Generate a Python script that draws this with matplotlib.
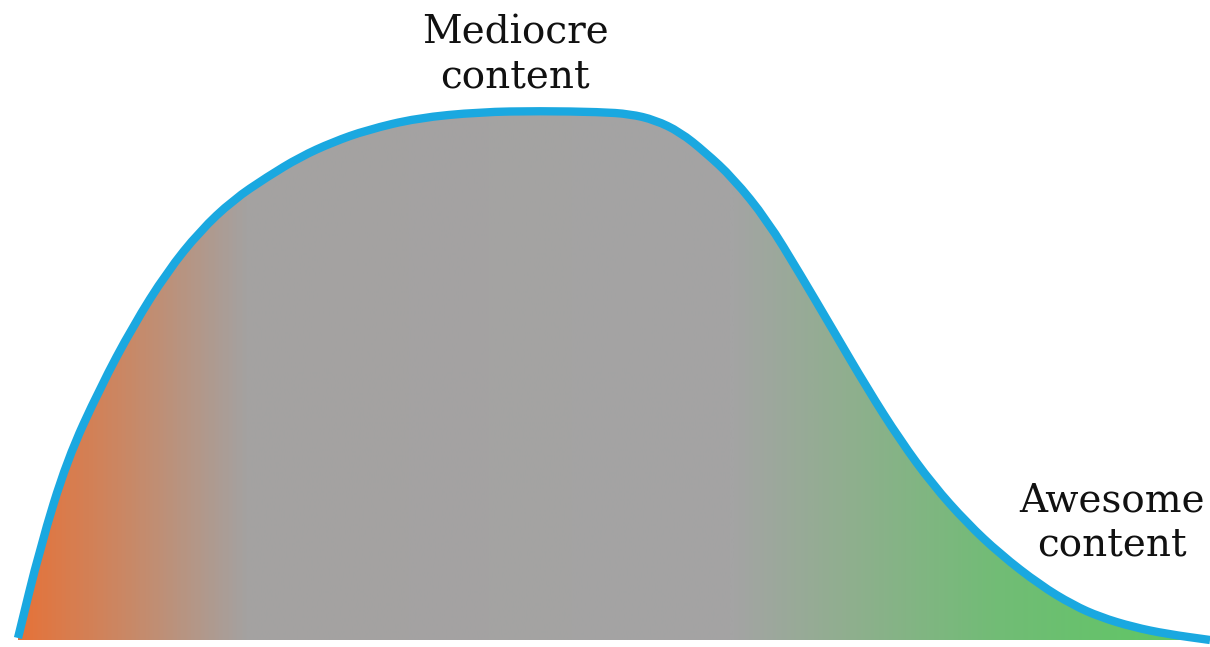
import matplotlib.pyplot as plt
import numpy as np
from matplotlib.colors import LinearSegmentedColormap
from matplotlib.path import Path
from matplotlib.patches import PathPatch

# curve: x position and height above the baseline
curve_x = [18, 40, 67, 100, 133, 167, 200, 233, 267, 300, 333, 367, 417, 480, 540, 600, 630,
           655, 680, 705, 733, 767, 800, 833, 867, 900, 933, 967, 1000, 1040, 1073, 1100,
           1133, 1167, 1210]
curve_y = [2, 92, 180, 252, 314, 368, 409, 440, 463, 483, 498, 510, 522, 528, 529, 528, 526,
           520, 508, 488, 462, 420, 366, 310, 252, 200, 155, 117, 86, 55, 35, 23,
           13, 6, 0]

labels = ["Mediocre\ncontent", "Awesome\ncontent"]
label_x = [515, 1112]
label_y = [585, 117]

# colour stops of the fill, left to right
stop_pos = [0.0, 0.09, 0.19, 0.60, 0.70, 0.82, 1.0]
stop_col = ["#E5733A", "#C98866", "#A4A2A1", "#A4A4A4", "#8FAF8E", "#72BC76", "#5CC862"]


def smooth_path(xs, ys, close=False):
    # quadratic beziers through the midpoints, read points act as control points
    pts = np.column_stack([xs, ys]).astype(float)
    verts = [pts[0], (pts[0] + pts[1]) / 2]
    codes = [Path.MOVETO, Path.LINETO]
    for i in range(1, len(pts) - 1):
        verts += [pts[i], (pts[i] + pts[i + 1]) / 2]
        codes += [Path.CURVE3, Path.CURVE3]
    verts.append(pts[-1])
    codes.append(Path.LINETO)
    if close:
        verts += [(pts[-1][0], 0), (pts[0][0], 0), pts[0]]
        codes += [Path.LINETO, Path.LINETO, Path.CLOSEPOLY]
    return Path(verts, codes)


W, H = 1210, 647
fig = plt.figure(figsize=(W / 100, H / 100), dpi=100)
ax = fig.add_axes([0, 0, 1, 1])
ax.set_xlim(0, W)
ax.set_ylim(-7, 640)
ax.axis('off')

cmap = LinearSegmentedColormap.from_list('fill', list(zip(stop_pos, stop_col)))
grad = np.linspace(0, 1, 600).reshape(1, -1)
img = ax.imshow(grad, cmap=cmap, aspect='auto', extent=[curve_x[0], curve_x[-1], 0, max(curve_y) + 5],
                interpolation='bilinear', zorder=1)
img.set_clip_path(smooth_path(curve_x, curve_y, close=True), transform=ax.transData)

line = PathPatch(smooth_path(curve_x, curve_y), facecolor='none', edgecolor='#1AA8E0', lw=6,
                 capstyle='butt', joinstyle='round', zorder=3)
ax.add_patch(line)

for t, x, y in zip(labels, label_x, label_y):
    ax.text(x, y, t, ha='center', va='center', fontsize=28, family='DejaVu Serif',
            color='#111111', linespacing=1.25, zorder=4)

fig.savefig('out.png', dpi=100)
